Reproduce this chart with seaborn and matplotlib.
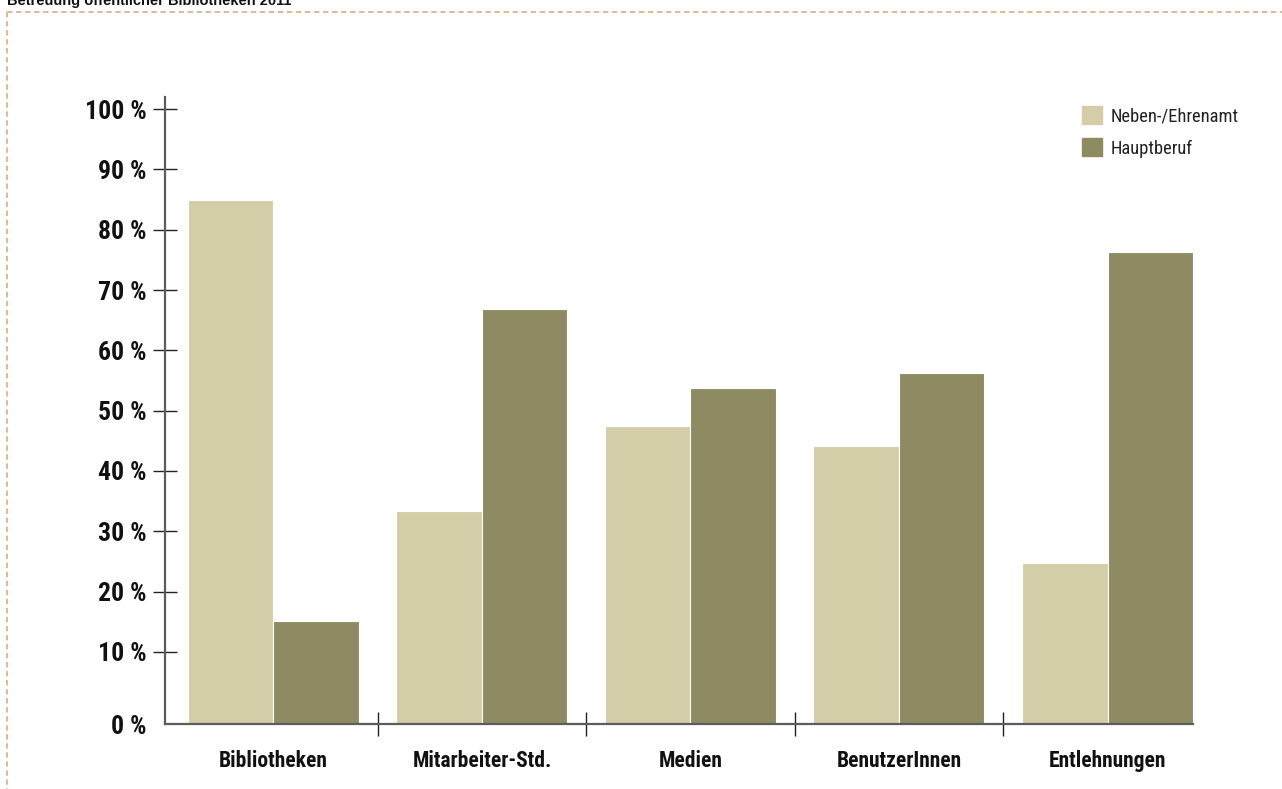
import numpy as np
import pandas as pd
import matplotlib
matplotlib.use("Agg")
import matplotlib.pyplot as plt
from matplotlib import font_manager as fm
from matplotlib.lines import Line2D
import seaborn as sns

# ---- data ----
categories = ["Bibliotheken", "Mitarbeiter-Std.", "Medien", "BenutzerInnen", "Entlehnungen"]
series = ["Neben-/Ehrenamt", "Hauptberuf"]
neben = [84.9, 33.4, 47.4, 44.1, 24.8]
haupt = [15.1, 66.8, 53.8, 56.2, 76.3]
ytick_values = [0, 10, 20, 30, 40, 50, 60, 70, 80, 90, 100]
ytick_labels = [f"{v} %" for v in ytick_values]
title = "Betreuung öffentlicher Bibliotheken 2011"

colors = {"Neben-/Ehrenamt": "#D3CEA8", "Hauptberuf": "#8E8A62"}

df = pd.DataFrame({
    "Kategorie": categories * 2,
    "Serie": [series[0]] * len(categories) + [series[1]] * len(categories),
    "Anteil": neben + haupt,
})

sns.set_theme(style="white")


# ---- pick a condensed font file (bold and regular) ----
def _wnum(w):
    if isinstance(w, (int, float)):
        return w
    return {"ultralight": 200, "light": 300, "normal": 400, "regular": 400,
            "book": 400, "medium": 500, "roman": 400, "semibold": 600,
            "demibold": 600, "demi": 600, "bold": 700, "heavy": 800,
            "extra bold": 800, "black": 900}.get(str(w).lower(), 400)


def _is_cond(f):
    st = str(f.stretch).lower()
    return ("condensed" in st and "semi" not in st) or "narrow" in f.name.lower() \
        or ("condensed" in f.name.lower() and "semi" not in f.name.lower()
            and "extra" not in f.name.lower())


cands = [f for f in fm.fontManager.ttflist if _is_cond(f) and f.style == "normal"]
pref = ["Liberation Sans Narrow", "Roboto Condensed", "Noto Sans", "Noto Sans Condensed",
        "Open Sans", "Open Sans Condensed", "DejaVu Sans", "DejaVu Sans Condensed"]


def _pick(bold):
    best, bscore = None, 1e9
    for f in cands:
        try:
            rank = pref.index(f.name)
        except ValueError:
            rank = len(pref)
        wd = abs(_wnum(f.weight) - (700 if bold else 400))
        score = rank * 1000 + wd
        if score < bscore:
            best, bscore = f, score
    return best


fb, fr = _pick(True), _pick(False)


def FP(bold, size):
    f = fb if bold else fr
    if f is not None:
        return fm.FontProperties(fname=f.fname, size=size)
    return fm.FontProperties(family="DejaVu Sans", weight="bold" if bold else "normal",
                             size=size * 0.85)


W, H = 1282, 789
fig = plt.figure(figsize=(W / 100, H / 100), dpi=100)
ax = fig.add_axes([165 / W, 1 - 724 / H, (1193 - 165) / W, (724 - 97) / H])

ymin, ymax = -1.95, 102.0

sns.barplot(data=df, x="Kategorie", y="Anteil", hue="Serie", order=categories,
            hue_order=series, palette=colors, width=0.82, ax=ax,
            edgecolor="white", linewidth=0.8, saturation=1, errorbar=None)

# extend bars down to the axis line
for cont in ax.containers:
    for p in cont.patches:
        y0, h = p.get_y(), p.get_height()
        p.set_y(ymin)
        p.set_height(h + (y0 - ymin))

ax.set_ylim(ymin, ymax)
ax.set_xlim(-0.52, len(categories) - 1 + 0.41)

# y ticks (0 % label sits on the axis line)
ypos = [ymin] + ytick_values[1:]
ax.set_yticks(ypos)
ax.set_yticklabels(ytick_labels)
ax.tick_params(axis="y", direction="inout", length=17, width=1, color="#222222",
               pad=4.5, left=True)
ax.yaxis.get_major_ticks()[0].tick1line.set_visible(False)
for lab in ax.get_yticklabels():
    lab.set_fontproperties(FP(True, 18.5))
    lab.set_color("#111111")

# x: category labels, separators as minor ticks
ax.set_xticks(range(len(categories)))
ax.set_xticklabels(categories)
ax.tick_params(axis="x", which="major", length=0, pad=19)
ax.set_xticks(np.arange(0.5, len(categories) - 1, 1.0), minor=True)
ax.tick_params(axis="x", which="minor", direction="inout", length=17, width=1,
               color="#222222", bottom=True)
for lab in ax.get_xticklabels():
    lab.set_fontproperties(FP(True, 15.5))
    lab.set_color("#111111")

ax.set_xlabel("")
ax.set_ylabel("")
for s in ["top", "right"]:
    ax.spines[s].set_visible(False)
for s in ["left", "bottom"]:
    ax.spines[s].set_color("#5c5c5c")
    ax.spines[s].set_linewidth(1.6)
ax.grid(False)

# legend
handles = [plt.Rectangle((0, 0), 1, 1, color=colors[s]) for s in series]
ax.get_legend().remove()
lp = FP(False, 13.3)
leg = fig.legend(handles, series, loc="upper left",
                 bbox_to_anchor=(1082 / W, 1 - 106 / H), frameon=False,
                 borderpad=0, borderaxespad=0, handlelength=1.1,
                 handleheight=1.1, handletextpad=0.45, labelspacing=0.72,
                 prop=lp)
for t in leg.get_texts():
    t.set_color("#222222")

# dashed frame (top and left) and cut title
dash_col = "#DCB48F"
fig.add_artist(Line2D([7 / W, 1.0], [1 - 12 / H, 1 - 12 / H], transform=fig.transFigure,
                      color=dash_col, lw=1.3, linestyle=(0, (3, 2))))
fig.add_artist(Line2D([7 / W, 7 / W], [1 - 12 / H, 0.0], transform=fig.transFigure,
                      color=dash_col, lw=1.3, linestyle=(0, (3, 2))))
fig.text(7 / W, 1 - 4.5 / H, title, ha="left", va="baseline", fontsize=10.5,
         fontweight="bold", color="#111111", family="Liberation Sans")

fig.savefig("out.png", dpi=100, facecolor="white")
